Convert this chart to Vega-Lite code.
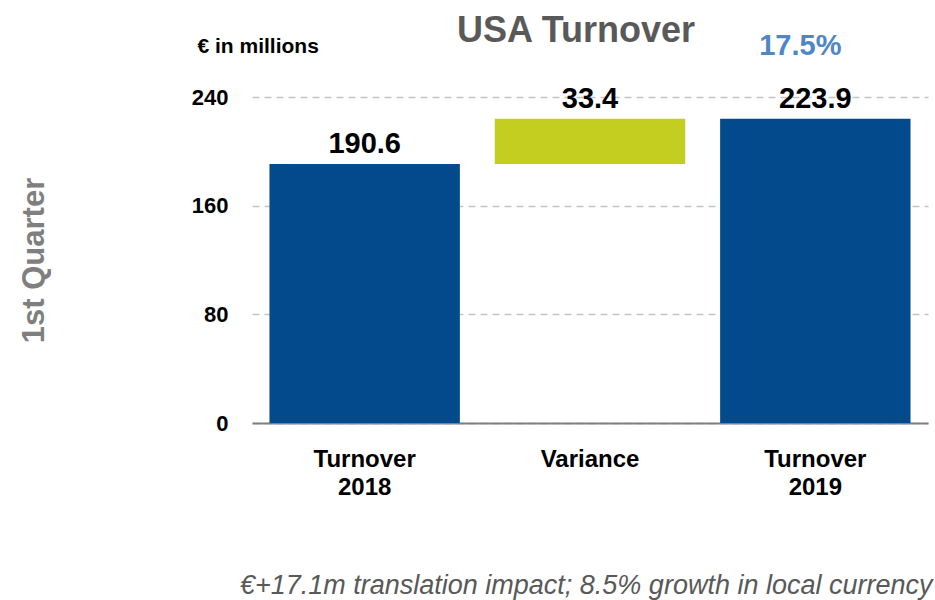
{
  "$schema": "https://vega.github.io/schema/vega-lite/v6.json",
  "width": 676,
  "height": 326,
  "autosize": {"type": "none"},
  "padding": {"left": 252, "top": 97, "right": 7, "bottom": 177},
  "background": "white",
  "title": {
    "text": "USA Turnover",
    "fontSize": 36,
    "fontWeight": "bold",
    "color": "#595959",
    "anchor": "middle",
    "dx": -14,
    "dy": 22
  },
  "config": {
    "font": "Liberation Sans",
    "view": {"stroke": null},
    "axisY": {
      "grid": true,
      "gridDash": [7, 5],
      "gridColor": "#c4c4c4",
      "gridWidth": 1.5,
      "domain": false,
      "ticks": false,
      "labelPadding": 24,
      "labelFontSize": 22,
      "labelFontWeight": "bold",
      "labelColor": "black",
      "titleFontSize": 31,
      "titleFontWeight": "bold",
      "titleColor": "#7f7f7f",
      "titleAngle": -90,
      "titleX": -218,
      "titleY": 163,
      "titleAlign": "center",
      "titleBaseline": "middle"
    },
    "axisBottom": {
      "domain": true,
      "domainColor": "#808080",
      "domainWidth": 2,
      "ticks": false,
      "grid": false,
      "labelAngle": 0,
      "labelFontSize": 24,
      "labelFontWeight": "bold",
      "labelColor": "black",
      "labelPadding": 24,
      "labelLineHeight": 28,
      "titleFontSize": 27,
      "titleFontStyle": "italic",
      "titleFontWeight": "normal",
      "titleColor": "#595959",
      "titleX": 680,
      "titleY": 170,
      "titleAlign": "right",
      "titleBaseline": "alphabetic"
    },
    "axisTop": {
      "domain": false,
      "ticks": false,
      "labels": false,
      "grid": false,
      "titleFontSize": 21,
      "titleFontWeight": "bold",
      "titleColor": "black",
      "titleX": -55,
      "titleY": -45,
      "titleAlign": "left",
      "titleBaseline": "alphabetic"
    }
  },
  "data": {
    "values": [
      {"category": "Turnover 2018", "start": 0, "end": 190.6, "label": "190.6", "kind": "total", "growth": null},
      {"category": "Variance", "start": 190.6, "end": 224.0, "label": "33.4", "kind": "variance", "growth": null},
      {"category": "Turnover 2019", "start": 0, "end": 223.9, "label": "223.9", "kind": "total", "growth": "17.5%"}
    ]
  },
  "layer": [
    {
      "mark": {"type": "bar"},
      "encoding": {
        "x": {
          "field": "category",
          "type": "nominal",
          "sort": null,
          "scale": {"paddingInner": 0.155},
          "title": "€+17.1m translation impact; 8.5% growth in local currency",
          "axis": {"orient": "bottom", "labelExpr": "split(datum.label, ' ')"}
        },
        "y": {
          "field": "start",
          "type": "quantitative",
          "title": "1st Quarter",
          "scale": {"domain": [0, 240], "nice": false},
          "axis": {"values": [0, 80, 160, 240]}
        },
        "y2": {"field": "end"},
        "color": {
          "field": "kind",
          "type": "nominal",
          "scale": {"domain": ["total", "variance"], "range": ["#034a8c", "#c3ce20"]},
          "legend": null
        }
      }
    },
    {
      "mark": {"type": "text", "fontSize": 29, "fontWeight": "bold", "color": "black", "baseline": "alphabetic", "dy": -11},
      "encoding": {
        "x": {
          "field": "category",
          "type": "nominal",
          "sort": null,
          "title": "€ in millions",
          "axis": {"orient": "top"}
        },
        "y": {"field": "end", "type": "quantitative", "title": "1st Quarter", "axis": {"values": [0, 80, 160, 240]}},
        "text": {"field": "label"}
      }
    },
    {
      "transform": [{"filter": "datum.growth != null"}],
      "mark": {"type": "text", "fontSize": 29, "fontWeight": "bold", "color": "#4f86c6", "baseline": "alphabetic", "dy": -64, "dx": -15},
      "encoding": {
        "x": {"field": "category", "type": "nominal", "sort": null, "axis": null},
        "y": {"field": "end", "type": "quantitative", "title": "1st Quarter", "axis": {"values": [0, 80, 160, 240]}},
        "text": {"field": "growth"}
      }
    }
  ],
  "resolve": {"axis": {"x": "independent"}}
}
